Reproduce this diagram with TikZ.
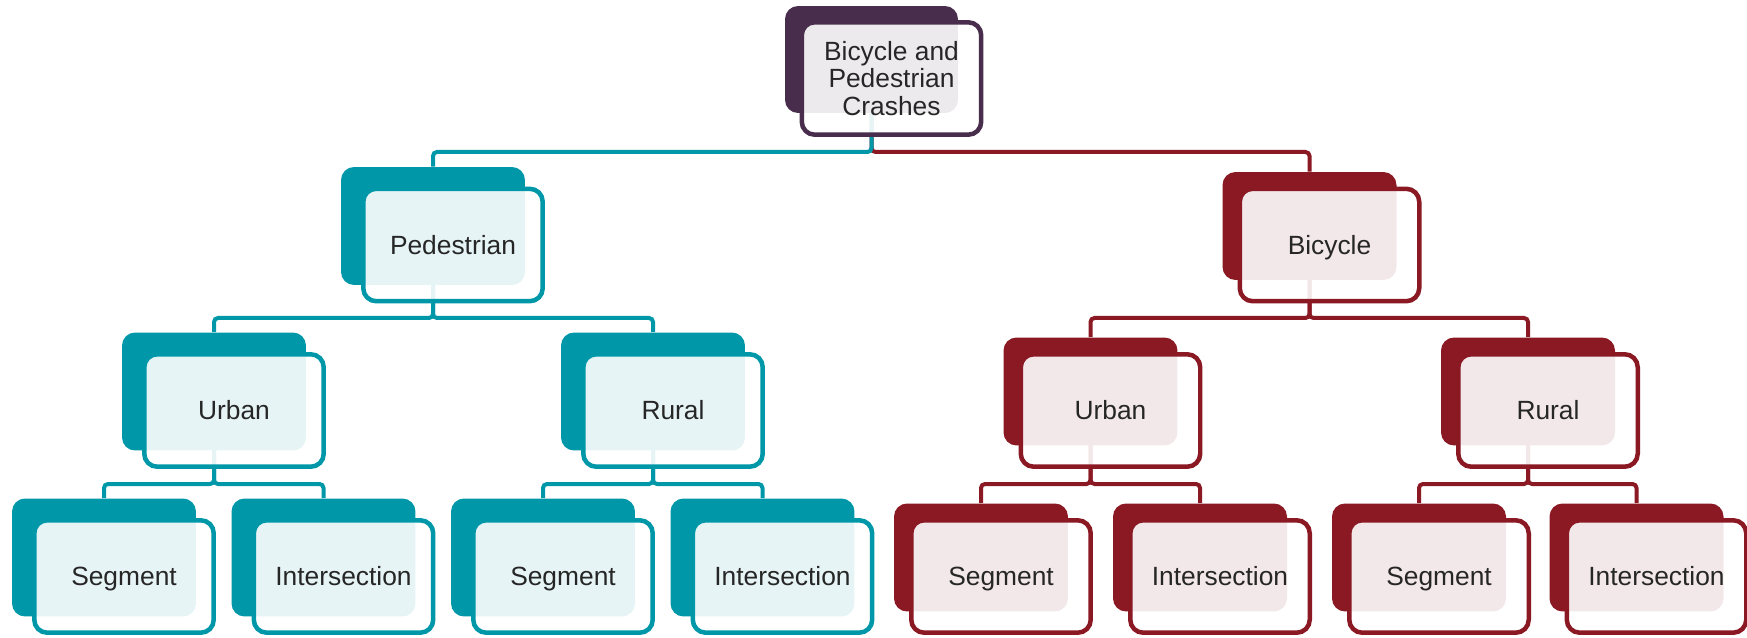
\documentclass[tikz,border=0pt]{standalone}
\usepackage{fontspec}
\setmainfont{Liberation Sans}
\usepackage{xcolor}
\usepackage{tikz}
\usetikzlibrary{backgrounds}

\definecolor{pedteal}{HTML}{0098A8}
\definecolor{bicred}{HTML}{8A1923}
\definecolor{toppurple}{HTML}{482E4C}
\definecolor{lblgray}{HTML}{262626}

\newcommand{\lblfont}{\fontsize{15}{15.7}\selectfont}

\begin{document}
\begin{tikzpicture}[x=0.02cm, y=-0.02cm,
		backbox/.style={inner sep=0pt, rounded corners=0.26cm,
			minimum width=3.48cm, minimum height=2.16cm},
		topback/.style={backbox, fill=toppurple, minimum width=3.46cm, minimum height=2.14cm},
		pedback/.style={backbox, fill=pedteal, minimum width=3.68cm, minimum height=2.36cm},
		bicback/.style={backbox, fill=bicred},
		frontbox/.style={draw, line width=0.09cm, fill=white, fill opacity=0.9,
			text opacity=1, rounded corners=0.26cm, inner sep=0pt,
			minimum width=3.59cm, minimum height=2.25cm,
			font=\lblfont, text=lblgray},
		oneline/.style={text height=10.8pt, text depth=0pt},
		topfront/.style={frontbox, draw=toppurple, align=center},
		pedfront/.style={frontbox, oneline, draw=pedteal},
		bicfront/.style={frontbox, oneline, draw=bicred},
		link/.style={line width=0.08cm, rounded corners=0.08cm},
		pedlink/.style={link, pedteal},
		biclink/.style={link, bicred},
	]
	\useasboundingbox (0,0) rectangle (1747,638);
	
	%% ── Bar levels of the tree ───────────────────────────────────────────────
	\coordinate (lvl1) at (0,152);
	\coordinate (lvl2) at (0,318);
	\coordinate (lvl3) at (0,484);
	
	%% ── Root ─────────────────────────────────────────────────────────────────
	\node[topback] (top-b) at (871.5,59.5) {};
	\node[topfront] (top) at (891.5,78.5) {Bicycle and\\Pedestrian\\Crashes};
	
	%% ── Pedestrian branch ────────────────────────────────────────────────────
	\node[pedback]  (ped-b) at (433,226) {};
	\node[pedfront] (ped)   at (453,245) {Pedestrian};
	
	\node[pedback]  (pedurb-b) at (214,391.5) {};
	\node[pedfront] (pedurb)   at (234,410.5) {Urban};
	\node[pedback]  (pedrur-b) at (653,391.5) {};
	\node[pedfront] (pedrur)   at (673,410.5) {Rural};
	
	\node[pedback]  (pedurbseg-b) at (104,557.5) {};
	\node[pedfront] (pedurbseg)   at (124,576.5) {Segment};
	\node[pedback]  (pedurbint-b) at (323.5,557.5) {};
	\node[pedfront] (pedurbint)   at (343.5,576.5) {Intersection};
	\node[pedback]  (pedrurseg-b) at (543,557.5) {};
	\node[pedfront] (pedrurseg)   at (563,576.5) {Segment};
	\node[pedback]  (pedrurint-b) at (762.5,557.5) {};
	\node[pedfront] (pedrurint)   at (782.5,576.5) {Intersection};
	
	%% ── Bicycle branch ───────────────────────────────────────────────────────
	\node[bicback]  (bic-b) at (1309.5,226) {};
	\node[bicfront] (bic)   at (1329.5,245) {Bicycle};
	
	\node[bicback]  (bicurb-b) at (1090.5,391.5) {};
	\node[bicfront] (bicurb)   at (1110.5,410.5) {Urban};
	\node[bicback]  (bicrur-b) at (1528,391.5) {};
	\node[bicfront] (bicrur)   at (1548,410.5) {Rural};
	
	\node[bicback]  (bicurbseg-b) at (981,557.5) {};
	\node[bicfront] (bicurbseg)   at (1001,576.5) {Segment};
	\node[bicback]  (bicurbint-b) at (1200,557.5) {};
	\node[bicfront] (bicurbint)   at (1220,576.5) {Intersection};
	\node[bicback]  (bicrurseg-b) at (1419,557.5) {};
	\node[bicfront] (bicrurseg)   at (1439,576.5) {Segment};
	\node[bicback]  (bicrurint-b) at (1636.5,557.5) {};
	\node[bicfront] (bicrurint)   at (1656.5,576.5) {Intersection};
	
	%% ── Connectors (behind the boxes) ────────────────────────────────────────
	\begin{scope}[on background layer]
		\draw[biclink] (top-b.center) -- (top-b.center |- lvl1) -| (bic-b.north);
		\draw[pedlink] (top-b.center) -- (top-b.center |- lvl1) -| (ped-b.north);
		
		\draw[pedlink] (ped-b.center) -- (ped-b.center |- lvl2) -| (pedurb-b.north);
		\draw[pedlink] (ped-b.center) -- (ped-b.center |- lvl2) -| (pedrur-b.north);
		\draw[biclink] (bic-b.center) -- (bic-b.center |- lvl2) -| (bicurb-b.north);
		\draw[biclink] (bic-b.center) -- (bic-b.center |- lvl2) -| (bicrur-b.north);
		
		\draw[pedlink] (pedurb-b.center) -- (pedurb-b.center |- lvl3) -| (pedurbseg-b.north);
		\draw[pedlink] (pedurb-b.center) -- (pedurb-b.center |- lvl3) -| (pedurbint-b.north);
		\draw[pedlink] (pedrur-b.center) -- (pedrur-b.center |- lvl3) -| (pedrurseg-b.north);
		\draw[pedlink] (pedrur-b.center) -- (pedrur-b.center |- lvl3) -| (pedrurint-b.north);
		\draw[biclink] (bicurb-b.center) -- (bicurb-b.center |- lvl3) -| (bicurbseg-b.north);
		\draw[biclink] (bicurb-b.center) -- (bicurb-b.center |- lvl3) -| (bicurbint-b.north);
		\draw[biclink] (bicrur-b.center) -- (bicrur-b.center |- lvl3) -| (bicrurseg-b.north);
		\draw[biclink] (bicrur-b.center) -- (bicrur-b.center |- lvl3) -| (bicrurint-b.north);
	\end{scope}
	
\end{tikzpicture}
\end{document}
